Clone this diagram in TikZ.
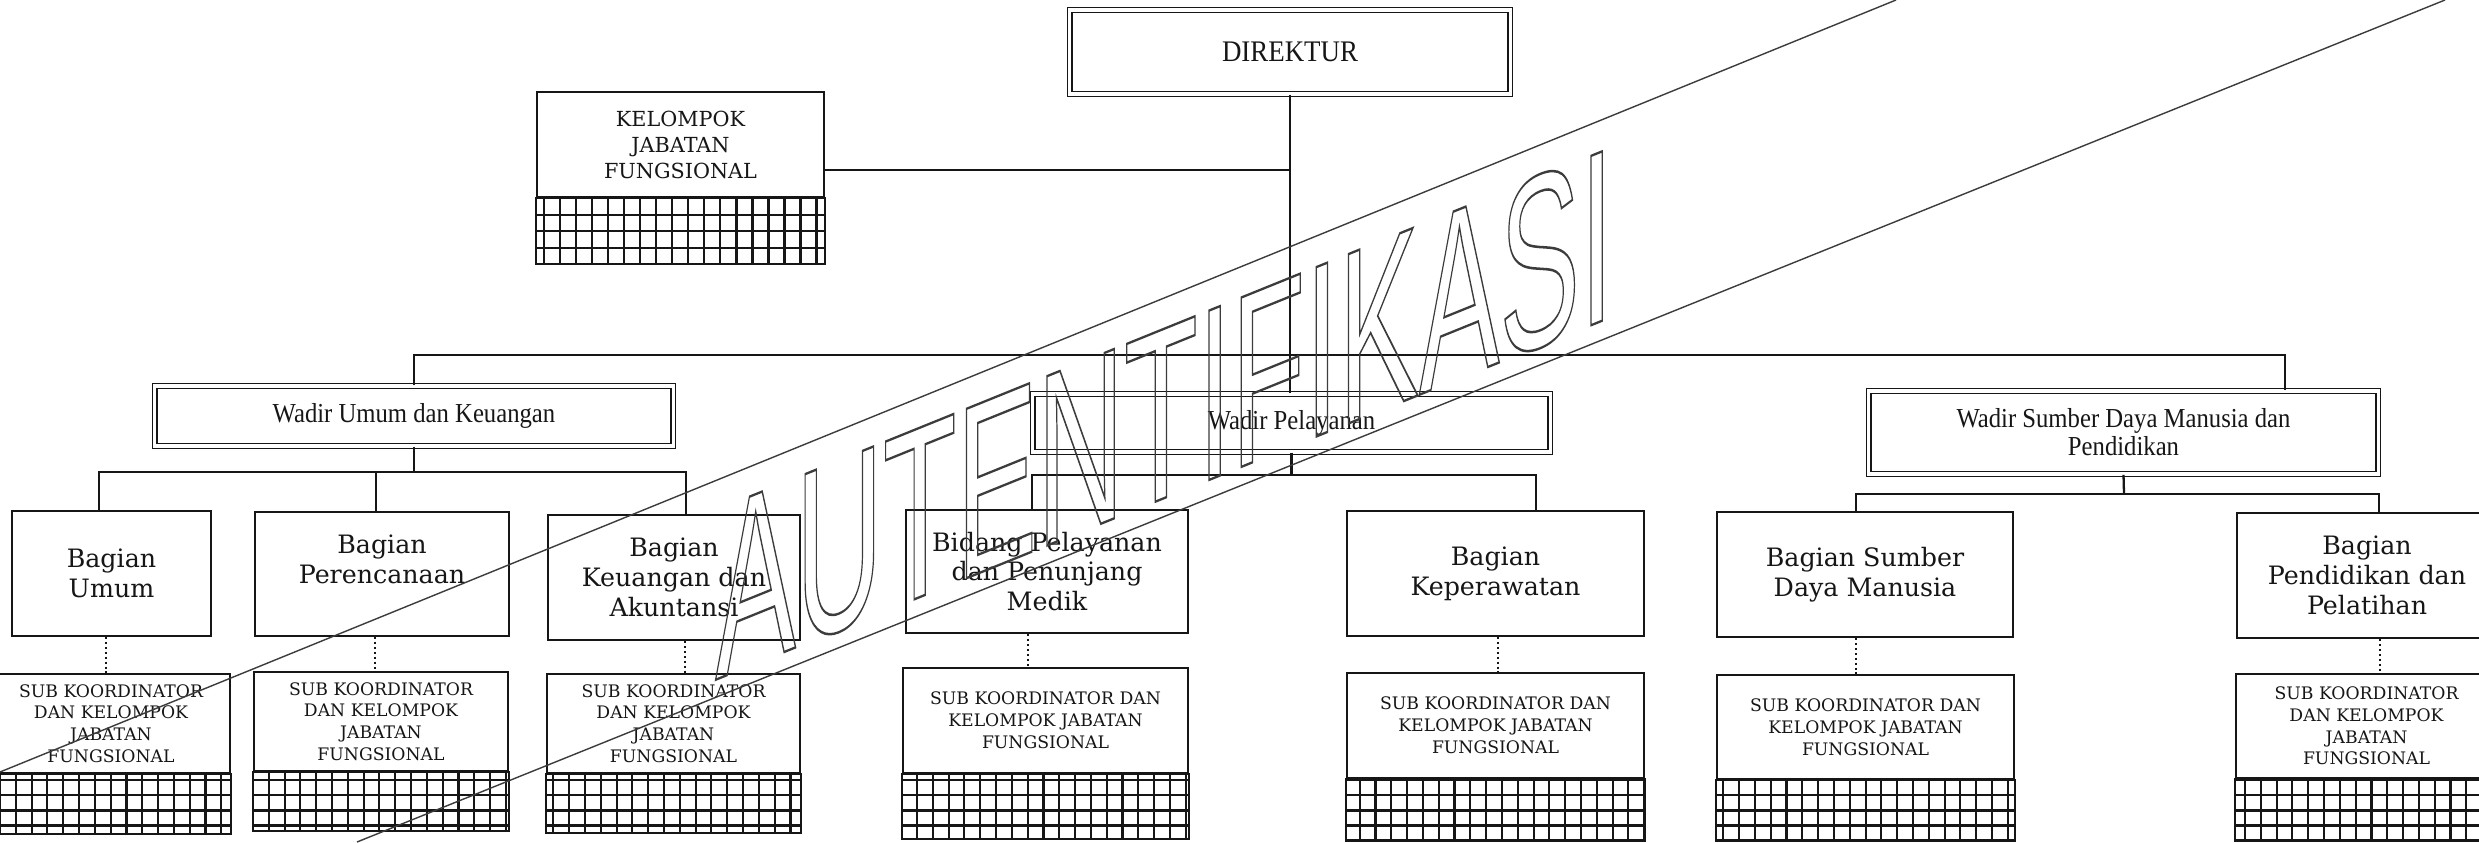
\documentclass[tikz,border=0pt]{standalone}
\usepackage{fontspec}
\usepackage{tikz}
\usepackage{xcolor}
\usetikzlibrary{positioning}
\newfontfamily\timesfont[FakeStretch=0.9]{Liberation Serif}
\newfontfamily\bookfont{DejaVu Serif}
\newfontfamily\stampfont{Liberation Sans}
\definecolor{OrgInk}{HTML}{161616}
\definecolor{StampInk}{HTML}{3C3C3C}

\begin{document}
\begin{tikzpicture}[
    x=0.01cm, y=-0.01cm,
    orgbox/.style={draw=OrgInk,line width=0.55pt,fill=white,align=center,
      inner sep=0pt,text=OrgInk},
    chiefbox/.style={orgbox,line width=0.45pt,double=white,double distance=0.9pt,
      font=\timesfont\fontsize{8.5}{10}\selectfont},
    wadirbox/.style={chiefbox,font=\timesfont\fontsize{7.8}{8}\selectfont},
    bagianbox/.style={orgbox,font=\bookfont\fontsize{7.2}{8.5}\selectfont},
    kjfbox/.style={orgbox,font=\bookfont\fontsize{5.9}{7.4}\selectfont},
    subbox/.style={orgbox,font=\bookfont\fontsize{4.9}{6.2}\selectfont},
    hatchgrid/.style={draw=OrgInk,line width=0.6pt,xstep=0.158cm,ystep=0.15cm},
    orglink/.style={draw=OrgInk,line width=0.65pt},
    dotlink/.style={draw=OrgInk,line width=0.6pt,dash pattern=on 0.6pt off 0.8pt},
    stampline/.style={draw=StampInk,line width=0.4pt},
    stamptext/.style={font=\stampfont\fontsize{70}{72}\selectfont,text=StampInk,
      transform shape,yslant=0.405,xscale=0.49,inner sep=0pt,anchor=base west}
  ]
    \useasboundingbox (0,0) rectangle (2479,842);
    \clip (0,0) rectangle (2479,842);

    % top level
    \node[chiefbox,minimum width=4.40cm,minimum height=0.84cm] (direktur) at (1290,52) {DIREKTUR};
    \node[kjfbox,minimum width=2.87cm,minimum height=1.05cm] (kjf) at (680.5,144.5) {KELOMPOK\\JABATAN\\FUNGSIONAL};

    % wadir
    \node[wadirbox,minimum width=5.18cm,minimum height=0.60cm] (wumum) at (414,416) {Wadir Umum dan Keuangan};
    \node[wadirbox,minimum width=5.17cm,minimum height=0.58cm] (wpel) at (1291.5,423) {Wadir Pelayanan};
    \node[wadirbox,minimum width=5.09cm,minimum height=0.83cm] (wsdm) at (2123.5,432.5) {Wadir Sumber Daya Manusia dan\\Pendidikan};

    % bagian / bidang
    \node[bagianbox,minimum width=1.99cm,minimum height=1.25cm] (umum) at (111.5,573.5) {Bagian\\Umum};
    \node[bagianbox,minimum width=2.54cm,minimum height=1.24cm] (renc) at (382,574) {Bagian\\Perencanaan\\\mbox{}};
    \node[bagianbox,minimum width=2.52cm,minimum height=1.25cm] (keu) at (674,577.5) {Bagian\\Keuangan dan\\Akuntansi};
    \node[bagianbox,minimum width=2.82cm,minimum height=1.23cm] (bidang) at (1047,571.5) {Bidang Pelayanan\\dan Penunjang\\Medik};
    \node[bagianbox,minimum width=2.97cm,minimum height=1.25cm] (kep) at (1495.5,573.5) {Bagian\\Keperawatan};
    \node[bagianbox,minimum width=2.96cm,minimum height=1.25cm] (bsdm) at (1865,574.5) {Bagian Sumber\\Daya Manusia};
    \node[bagianbox,minimum width=2.60cm,minimum height=1.25cm] (pend) at (2367,575.5) {Bagian\\Pendidikan dan\\Pelatihan};

    % sub koordinator
    \node[subbox,minimum width=2.38cm,minimum height=0.99cm] (sumum) at (111,723.5) {SUB KOORDINATOR\\DAN KELOMPOK\\JABATAN\\FUNGSIONAL};
    \node[subbox,minimum width=2.54cm,minimum height=0.99cm] (srenc) at (381,721.5) {SUB KOORDINATOR\\DAN KELOMPOK\\JABATAN\\FUNGSIONAL};
    \node[subbox,minimum width=2.53cm,minimum height=0.99cm] (skeu) at (673.5,723.5) {SUB KOORDINATOR\\DAN KELOMPOK\\JABATAN\\FUNGSIONAL};
    \node[subbox,minimum width=2.85cm,minimum height=1.05cm] (sbidang) at (1045.5,720.5) {SUB KOORDINATOR DAN\\KELOMPOK JABATAN\\FUNGSIONAL};
    \node[subbox,minimum width=2.97cm,minimum height=1.05cm] (skep) at (1495.5,725.5) {SUB KOORDINATOR DAN\\KELOMPOK JABATAN\\FUNGSIONAL};
    \node[subbox,minimum width=2.97cm,minimum height=1.04cm] (ssdm) at (1865.5,727) {SUB KOORDINATOR DAN\\KELOMPOK JABATAN\\FUNGSIONAL};
    \node[subbox,minimum width=2.61cm,minimum height=1.04cm] (spend) at (2366.5,726) {SUB KOORDINATOR\\DAN KELOMPOK\\JABATAN\\FUNGSIONAL};

    % hatched strips under the boxes
    \draw[hatchgrid,xstep=0.16cm,ystep=0.165cm] ([yshift=-0.66cm]kjf.south west) grid (kjf.south east) rectangle ([yshift=-0.66cm]kjf.south west);
    \draw[hatchgrid] ([yshift=-0.60cm]sumum.south west) grid (sumum.south east) rectangle ([yshift=-0.60cm]sumum.south west);
    \draw[hatchgrid] ([yshift=-0.59cm]srenc.south west) grid (srenc.south east) rectangle ([yshift=-0.59cm]srenc.south west);
    \draw[hatchgrid] ([yshift=-0.59cm]skeu.south west) grid (skeu.south east) rectangle ([yshift=-0.59cm]skeu.south west);
    \draw[hatchgrid] ([yshift=-0.65cm]sbidang.south west) grid (sbidang.south east) rectangle ([yshift=-0.65cm]sbidang.south west);
    \draw[hatchgrid] ([yshift=-0.62cm]skep.south west) grid (skep.south east) rectangle ([yshift=-0.62cm]skep.south west);
    \draw[hatchgrid] ([yshift=-0.61cm]ssdm.south west) grid (ssdm.south east) rectangle ([yshift=-0.61cm]ssdm.south west);
    \draw[hatchgrid] ([yshift=-0.62cm]spend.south west) grid (spend.south east) rectangle ([yshift=-0.62cm]spend.south west);

    % connectors
    \coordinate (bus) at (1290,355);
    \coordinate (dropsdm) at ([xshift=1.615cm]wsdm.north);
    \coordinate (bu) at (414,472);
    \coordinate (bp) at (1291.5,475);
    \coordinate (bs) at (2124,494);
    \draw[orglink] (direktur.south) -- (direktur.south |- wpel.north);
    \draw[orglink] ([yshift=-0.255cm]kjf.east) -- ([yshift=-0.255cm]kjf.east -| direktur.south);
    \draw[orglink] (wumum.north) |- (bus) -| (dropsdm);
    \draw[orglink] (wumum.south) -- (bu);
    \draw[orglink] ([xshift=-1.25mm]umum.north) |- (bu) -| ([xshift=1.2mm]keu.north);
    \draw[orglink] ([xshift=-0.6mm]renc.north) -- ([xshift=-0.6mm]renc.north |- bu);
    \draw[orglink] (wpel.south) -- (bp);
    \draw[orglink] ([xshift=-1.5mm]bidang.north) |- (bp) -| ([xshift=4.05mm]kep.north);
    \draw[orglink] (wsdm.south) -- (bs);
    \draw[orglink] ([xshift=-0.9mm]bsdm.north) |- (bs) -| ([xshift=1.2mm]pend.north);
    \draw[dotlink] ([xshift=-0.55mm]umum.south) -- ([xshift=-0.55mm]umum.south |- sumum.north);
    \draw[dotlink] ([xshift=-0.7mm]renc.south) -- ([xshift=-0.7mm]renc.south |- srenc.north);
    \draw[dotlink] ([xshift=1.1mm]keu.south) -- ([xshift=1.1mm]keu.south |- skeu.north);
    \draw[dotlink] ([xshift=-1.9mm]bidang.south) -- ([xshift=-1.9mm]bidang.south |- sbidang.north);
    \draw[dotlink] ([xshift=0.25mm]kep.south) -- ([xshift=0.25mm]kep.south |- skep.north);
    \draw[dotlink] ([xshift=-0.9mm]bsdm.south) -- ([xshift=-0.9mm]bsdm.south |- ssdm.north);
    \draw[dotlink] ([xshift=1.3mm]pend.south) -- ([xshift=1.3mm]pend.south |- spend.north);

    % stamp
    \draw[stampline] (0,772) -- (1896,0);
    \draw[stampline] (357,842) -- (2445,0);
    \node[stamptext] (stamp) at (715,680) {\special{pdf:literal direct 1 Tr 0.7 w}AUTENTIFIKASI\special{pdf:literal direct 0 Tr}};
  \end{tikzpicture}
\end{document}
